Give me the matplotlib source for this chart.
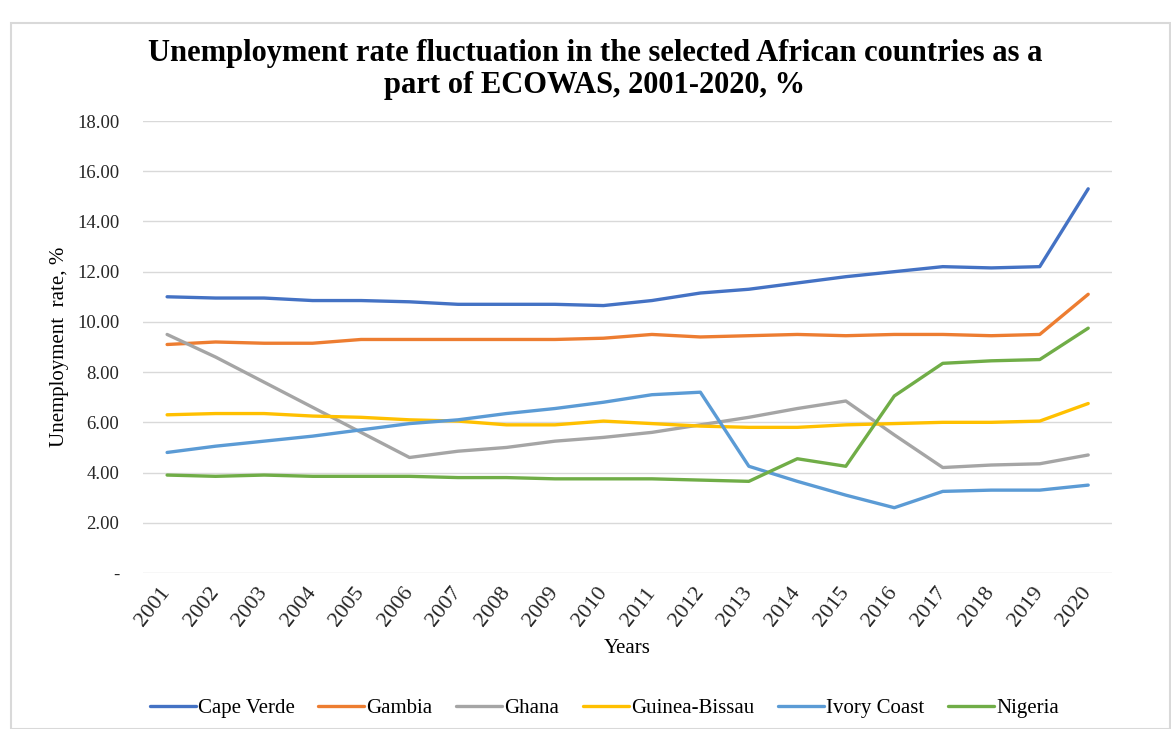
import matplotlib
matplotlib.use("Agg")
import matplotlib.pyplot as plt
from matplotlib.ticker import FuncFormatter
from matplotlib.patches import Rectangle

years = [str(y) for y in range(2001, 2021)]

cape_verde = [11.0, 10.95, 10.95, 10.85, 10.85, 10.8, 10.7, 10.7, 10.7, 10.65,
              10.85, 11.15, 11.3, 11.55, 11.8, 12.0, 12.2, 12.15, 12.2, 15.3]
gambia = [9.1, 9.2, 9.15, 9.15, 9.3, 9.3, 9.3, 9.3, 9.3, 9.35,
          9.5, 9.4, 9.45, 9.5, 9.45, 9.5, 9.5, 9.45, 9.5, 11.1]
ghana = [9.5, 8.6, 7.6, 6.6, 5.6, 4.6, 4.85, 5.0, 5.25, 5.4,
         5.6, 5.9, 6.2, 6.55, 6.85, 5.5, 4.2, 4.3, 4.35, 4.7]
guinea_bissau = [6.3, 6.35, 6.35, 6.25, 6.2, 6.1, 6.05, 5.9, 5.9, 6.05,
                 5.95, 5.85, 5.8, 5.8, 5.9, 5.95, 6.0, 6.0, 6.05, 6.75]
ivory_coast = [4.8, 5.05, 5.25, 5.45, 5.7, 5.95, 6.1, 6.35, 6.55, 6.8,
               7.1, 7.2, 4.25, 3.65, 3.1, 2.6, 3.25, 3.3, 3.3, 3.5]
nigeria = [3.9, 3.85, 3.9, 3.85, 3.85, 3.85, 3.8, 3.8, 3.75, 3.75,
           3.75, 3.7, 3.65, 4.55, 4.25, 7.05, 8.35, 8.45, 8.5, 9.75]

series = [
    ("Cape Verde", cape_verde, "#4472C4"),
    ("Gambia", gambia, "#ED7D31"),
    ("Ghana", ghana, "#A5A5A5"),
    ("Guinea-Bissau", guinea_bissau, "#FFC000"),
    ("Ivory Coast", ivory_coast, "#5B9BD5"),
    ("Nigeria", nigeria, "#70AD47"),
]

plt.rcParams['font.family'] = ['Liberation Serif', 'DejaVu Serif']

fig = plt.figure(figsize=(11.71, 7.29), dpi=100)
ax = fig.add_axes([0.122, 0.214, 0.828, 0.620])

# light border around the whole chart
fig.patches.append(Rectangle((0.009, 0.0), 0.99, 0.968, transform=fig.transFigure,
                             fill=False, edgecolor="#d9d9d9", linewidth=1.5))

x = range(len(years))
for name, vals, color in series:
    ax.plot(x, vals, color=color, linewidth=2.4, label=name, solid_capstyle="round")

ax.set_xlim(-0.5, len(years) - 0.5)
ax.set_ylim(0, 18)
ax.set_yticks(range(0, 19, 2))
ax.yaxis.set_major_formatter(FuncFormatter(lambda v, p: "-" if v == 0 else f"{v:.2f}"))
ax.set_xticks(list(x))
ax.set_xticklabels(years, rotation=52, fontsize=16, rotation_mode="anchor",
                   ha="right", va="center")
ax.tick_params(axis="y", labelsize=13.5, length=0, pad=17)
ax.tick_params(axis="x", length=0, pad=12)
for lbl in ax.get_yticklabels() + ax.get_xticklabels():
    lbl.set_color("#262626")

ax.grid(axis="y", color="#d9d9d9", linewidth=1)
ax.set_axisbelow(True)
for s in ax.spines.values():
    s.set_visible(False)

ax.set_ylabel("Unemployment  rate, %", fontsize=15, labelpad=6)
ax.set_xlabel("Years", fontsize=15, labelpad=6)

fig.text(0.508, 0.905,
         "Unemployment rate fluctuation in the selected African countries as a\npart of ECOWAS, 2001-2020, %",
         fontsize=22, fontweight="bold", ha="center", va="center", linespacing=1.15)

ax.legend(loc="upper center", bbox_to_anchor=(0.476, -0.237), ncol=6, frameon=False,
          fontsize=15, handlelength=2.2, handletextpad=0.1, columnspacing=1.15)

fig.savefig("out.png", dpi=100)
